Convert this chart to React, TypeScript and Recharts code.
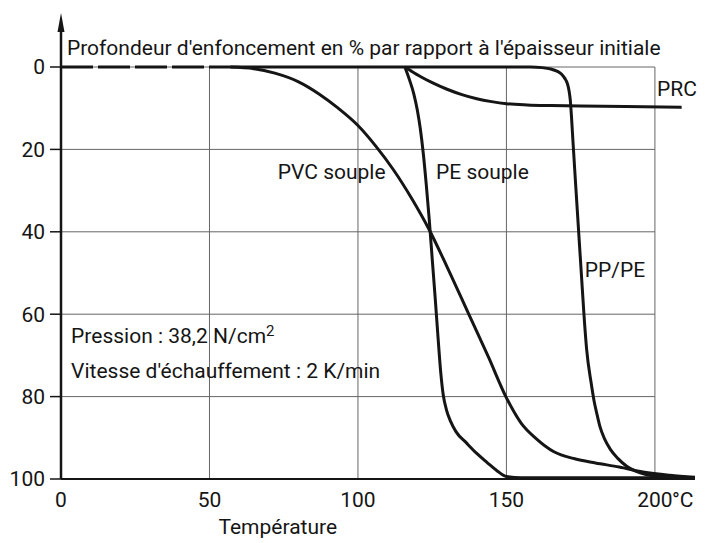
import React from "react";
import { LineChart, Line, XAxis, YAxis, ReferenceLine, ReferenceDot } from "recharts";

const xTicks = [0, 50, 100, 150, 200];
const yTicks = [0, 20, 40, 60, 80, 100];

const baseX = [0, 57];
const baseY = [0, 0];

const pvcX = [57, 65, 72, 80, 87, 93, 100, 106, 112, 118, 124, 130, 137, 144, 150, 155, 160, 166, 173, 180, 188, 196, 205, 213.5];
const pvcY = [0, 0.4, 1.5, 3.6, 6.6, 9.8, 14.2, 19.2, 25, 31.8, 39.5, 48.5, 59.5, 70.5, 80.3, 86.5, 90.2, 93.4, 95.1, 96.1, 97.1, 98.3, 99.1, 99.6];

const peX = [115.8, 117.3, 118.8, 120, 121, 122, 123, 124, 125, 126, 127, 127.8, 128.7, 129.8, 131.2, 133, 136.6, 140, 143.5, 147, 150, 155, 213.5];
const peY = [0, 3, 6.5, 10.5, 15, 21, 28.5, 37, 46.5, 56, 66, 73.5, 79.5, 83.2, 86, 88.5, 91.3, 93.8, 96, 98.1, 99.4, 99.7, 99.7];

const ppX = [57, 158, 162, 165, 167, 168.5, 169.6, 170.5, 171.1, 171.5, 171.9, 172.4, 173, 173.7, 174.5, 175.3, 176.1, 177, 178.6, 179.5, 180.4, 181.5, 183, 185, 187.5, 190.5, 193.5, 197, 202, 213.5];
const ppY = [0, 0, 0.15, 0.5, 1, 1.7, 2.7, 4, 5.8, 8, 12, 18, 25, 33, 42, 51, 60, 68.5, 77, 81, 84, 87.3, 90.2, 92.8, 95, 96.9, 98.1, 98.9, 99.4, 99.7];

const prcX = [115.8, 118, 121, 125, 130, 135, 140, 145, 150, 157, 165, 175, 190, 209];
const prcY = [0, 1, 2.3, 3.8, 5.4, 6.7, 7.7, 8.4, 8.9, 9.2, 9.35, 9.45, 9.6, 9.8];

const gridH = [0, 20, 40, 60, 80];
const gridV = [50, 100, 150, 200];

const toPts = (xs: number[], ys: number[]) => xs.map((x, i) => ({ x, y: ys[i] }));

const FONT = "Roboto";
const FS = 21;
const INK = "#151515";

type Note = { text: string; x: number; y: number; anchor?: string; sup?: string };
const notes: Note[] = [
  { text: "Profondeur d'enfoncement en % par rapport à l'épaisseur initiale", x: 2, y: -4.8 },
  { text: "PRC", x: 200.7, y: 5.3 },
  { text: "PVC souple", x: 73, y: 25.4 },
  { text: "PE souple", x: 126.3, y: 25.4 },
  { text: "PP/PE", x: 176.4, y: 49.2 },
  { text: "Pression : 38,2 N/cm", x: 3.4, y: 65.1, sup: "2" },
  { text: "Vitesse d'échauffement : 2 K/min", x: 3.4, y: 73.6 },
  { text: "Température", x: 73, y: 111.5, anchor: "middle" },
];

const XTick = (props: any) => {
  const { x, y, payload } = props;
  const v = payload.value;
  return (
    <g>
      <text x={x} y={y + 28} textAnchor="middle" fontFamily={FONT} fontSize={FS} fill={INK}>
        {v}
      </text>
      {v === 200 ? (
        <text x={x + 17} y={y + 28} textAnchor="start" fontFamily={FONT} fontSize={FS} fill={INK}>
          °C
        </text>
      ) : null}
    </g>
  );
};

export default function App() {
  return (
    <LineChart
      width={700}
      height={535}
      margin={{ top: 59, right: 13, bottom: 0, left: 0 }}
      style={{ background: "#fff" }}
    >
      <XAxis
        type="number"
        dataKey="x"
        domain={[0, 213.5]}
        ticks={xTicks}
        allowDataOverflow
        height={64}
        tickSize={0}
        tickMargin={0}
        tick={<XTick />}
        axisLine={{ stroke: INK, strokeWidth: 2 }}
      />
      <YAxis
        type="number"
        dataKey="y"
        reversed
        domain={[0, 100]}
        ticks={yTicks}
        width={53}
        tickSize={11}
        tickMargin={5}
        tick={{ fontFamily: FONT, fontSize: FS, fill: INK }}
        tickLine={{ stroke: INK, strokeWidth: 1.5 }}
        axisLine={{ stroke: INK, strokeWidth: 2.5 }}
      />
      {gridH.map((g) => (
        <ReferenceLine
          key={"h" + g}
          segment={[{ x: 0, y: g }, { x: 200, y: g }]}
          stroke="#666"
          strokeWidth={1}
          ifOverflow="visible"
        />
      ))}
      {gridV.map((g) => (
        <ReferenceLine
          key={"v" + g}
          segment={[{ x: g, y: 0 }, { x: g, y: 100 }]}
          stroke="#666"
          strokeWidth={1}
          ifOverflow="visible"
        />
      ))}
      <ReferenceLine
        segment={[{ x: 0, y: 0 }, { x: 0, y: -10 }]}
        stroke={INK}
        strokeWidth={2.5}
        ifOverflow="visible"
      />
      <ReferenceDot
        x={0}
        y={-13.1}
        ifOverflow="visible"
        shape={(p: any) => (
          <polygon points={`${p.cx},${p.cy} ${p.cx - 3.5},${p.cy + 19} ${p.cx + 3.5},${p.cy + 19}`} fill={INK} />
        )}
      />
      <Line data={toPts(baseX, baseY)} dataKey="y" type="linear" stroke={INK} strokeWidth={3} strokeDasharray="32 5" dot={false} isAnimationActive={false} />
      <Line data={toPts(pvcX, pvcY)} dataKey="y" type="monotone" stroke={INK} strokeWidth={3} dot={false} isAnimationActive={false} />
      <Line data={toPts(peX, peY)} dataKey="y" type="monotone" stroke={INK} strokeWidth={3} dot={false} isAnimationActive={false} />
      <Line data={toPts(ppX, ppY)} dataKey="y" type="monotone" stroke={INK} strokeWidth={3} dot={false} isAnimationActive={false} />
      <Line data={toPts(prcX, prcY)} dataKey="y" type="monotone" stroke={INK} strokeWidth={3} dot={false} isAnimationActive={false} />
      {notes.map((n, i) => (
        <ReferenceDot
          key={"n" + i}
          x={n.x}
          y={n.y}
          ifOverflow="visible"
          shape={(p: any) => (
            <text
              x={p.cx}
              y={p.cy}
              dy="0.36em"
              textAnchor={n.anchor || "start"}
              fontFamily={FONT}
              fontSize={FS}
              fill={INK}
            >
              {n.text}
              {n.sup ? (
                <tspan dy="-0.42em" fontSize={15}>
                  {n.sup}
                </tspan>
              ) : null}
            </text>
          )}
        />
      ))}
    </LineChart>
  );
}
